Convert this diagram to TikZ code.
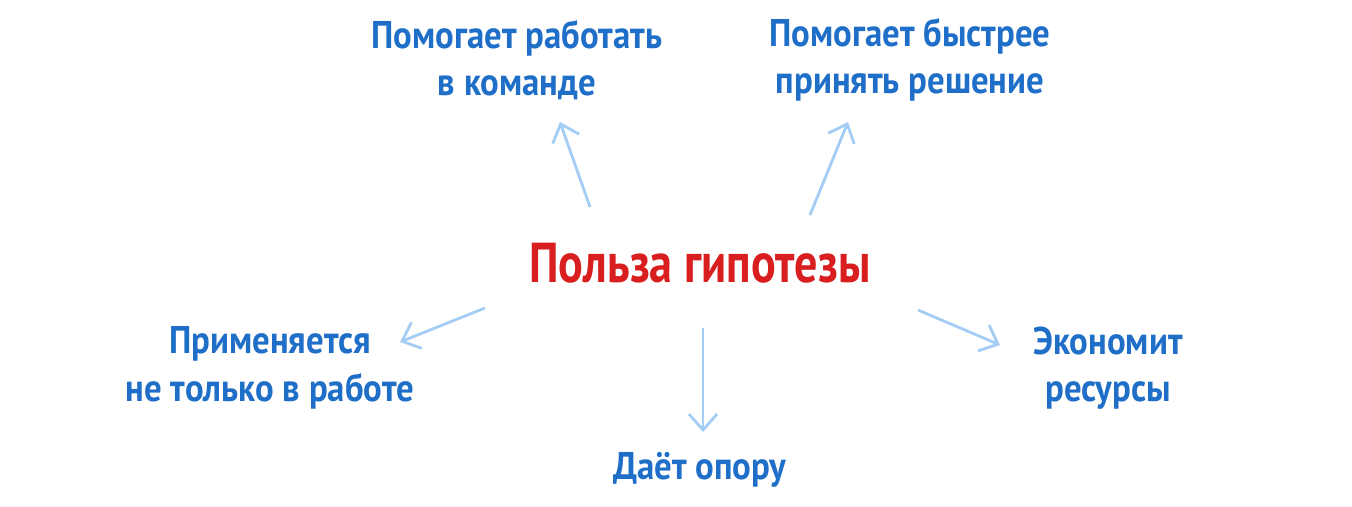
\documentclass[tikz,border=0pt]{standalone}
\usepackage{fontspec}
\setmainfont{PT Sans}
\newfontfamily\condA[FakeStretch=0.9]{PT Sans}
\newfontfamily\condB[FakeStretch=0.82]{PT Sans}
\usetikzlibrary{arrows.meta}
\definecolor{tblue}{HTML}{1F6FC8}
\definecolor{tred}{HTML}{D81E1E}
\definecolor{abl}{HTML}{A3CDF5}
\begin{document}
\begin{tikzpicture}[x=0.02cm,y=-0.02cm,
  lbl/.style={text=tblue,font=\condA\fontsize{22}{27}\selectfont\bfseries,align=center},
  arr/.style={draw=abl,line width=1.6pt,-{Straight Barb[length=9pt,width=16pt,line width=1.6pt]}}]
\useasboundingbox (0,0) rectangle (1352,507);
\node[text=tred,font=\condB\fontsize{32}{38}\selectfont\bfseries] (c) at (700,263) {Польза гипотезы};
\node[lbl] (a) at (517,60) {Помогает работать\\в команде};
\node[lbl] (b) at (910,60) {Помогает быстрее\\принять решение};
\node[lbl] (d) at (270,368) {Применяется\\не только в работе};
\node[lbl] (e) at (700,470) {Даёт опору};
\node[lbl] (f) at (1108,368) {Экономит\\ресурсы};
\coordinate (a1) at (590,207); \coordinate (a2) at (560,122);
\coordinate (b1) at (810,215); \coordinate (b2) at (848,122);
\coordinate (d1) at (485,308); \coordinate (d2) at (400,342);
\coordinate (e1) at (703,328); \coordinate (e2) at (703,432);
\coordinate (f1) at (918,310); \coordinate (f2) at (1000,345);
\draw[arr] (a1)--(a2);
\draw[arr] (b1)--(b2);
\draw[arr] (d1)--(d2);
\draw[arr] (e1)--(e2);
\draw[arr] (f1)--(f2);
\end{tikzpicture}
\end{document}
